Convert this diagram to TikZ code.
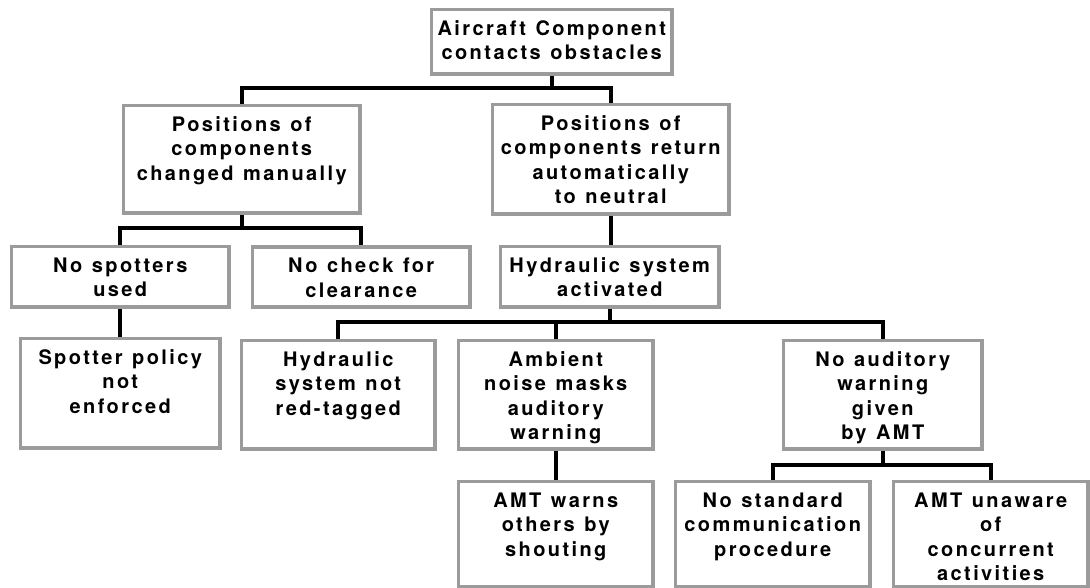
\documentclass[tikz,border=0pt]{standalone}
\usepackage{fontspec}
\setmainfont{TeX Gyre Heros}[LetterSpace=12,WordSpace=1.2]
\definecolor{boxgray}{RGB}{155,155,155}
\pgfdeclarelayer{bg}
\pgfsetlayers{bg,main}
\newcommand\bt[3]{\parbox[c][#2pt][t]{\dimexpr#1pt+40pt\relax}{\centering\rule{0pt}{26pt}#3\par}}
\tikzset{
  box/.style={draw=boxgray, fill=white, line width=3.5pt, inner xsep=-20pt, inner ysep=0pt, anchor=north west,
    font=\bfseries\fontsize{20}{24.3}\selectfont},
  conn/.style={draw=black, line width=4pt, line cap=rect},
}
\begin{document}
\begin{tikzpicture}[x=1pt,y=-1pt]
\useasboundingbox (0,0) rectangle (1090,588);
\node[box] (top) at (429.75,7.75) {\bt{240.5}{64.5}{Aircraft Component\\contacts obstacles}};
\node[box] (A) at (121.75,103.75) {\bt{236.5}{107.5}{Positions of\\components\\changed manually}};
\node[box] (B) at (490.75,102.75) {\bt{236.5}{109.5}{Positions of\\components return\\automatically\\to neutral}};
\node[box] (C) at (9.75,244.75) {\bt{217.5}{60.5}{No spotters\\used}};
\node[box] (D) at (250.75,245.25) {\bt{217.5}{60}{No check for\\clearance}};
\node[box] (E) at (498.75,244.75) {\bt{218.5}{60.5}{Hydraulic system\\activated}};
\node[box] (F) at (18.75,336.75) {\bt{199.5}{109.5}{Spotter policy\\not\\enforced}};
\node[box] (G) at (239.75,338.75) {\bt{193.5}{108.5}{Hydraulic\\system not\\red-tagged}};
\node[box] (H) at (456.75,338.75) {\bt{194.5}{108.5}{Ambient\\noise masks\\auditory\\warning}};
\node[box] (I) at (781.75,338.75) {\bt{198.5}{108.5}{No auditory\\warning\\given\\by AMT}};
\node[box] (J) at (456.75,479.75) {\bt{194.5}{105.5}{AMT warns\\others by\\shouting}};
\node[box] (K) at (673.75,479.75) {\bt{194.5}{105.5}{No standard\\communication\\procedure}};
\node[box] (L) at (891.75,479.75) {\bt{194.5}{105.5}{AMT unaware\\of\\concurrent\\activities}};
\begin{pgfonlayer}{bg}
\fill[white] (0,0) rectangle (1090,588);
\coordinate (b1) at (top.south |- 0,88);
\coordinate (b2) at (A.south |- 0,228);
\coordinate (b3) at (E.south |- 0,322);
\coordinate (b4) at (I.south |- 0,465);
\draw[conn] (top.south) -- (b1);
\draw[conn] (A.north) |- (b1) -| (B.north);
\draw[conn] (A.south) -- (b2);
\draw[conn] (C.north) |- (b2) -| (D.north);
\draw[conn] (C.south) -- (C.south |- F.north);
\draw[conn] (B.south) -- (B.south |- E.north);
\draw[conn] (E.south) -- (b3);
\draw[conn] (G.north) |- (b3) -| (I.north);
\draw[conn] (H.north) -- (H.north |- b3);
\draw[conn] (H.south) -- (J.north);
\draw[conn] (I.south) -- (b4);
\draw[conn] (K.north) |- (b4) -| (L.north);
\end{pgfonlayer}
\end{tikzpicture}
\end{document}
